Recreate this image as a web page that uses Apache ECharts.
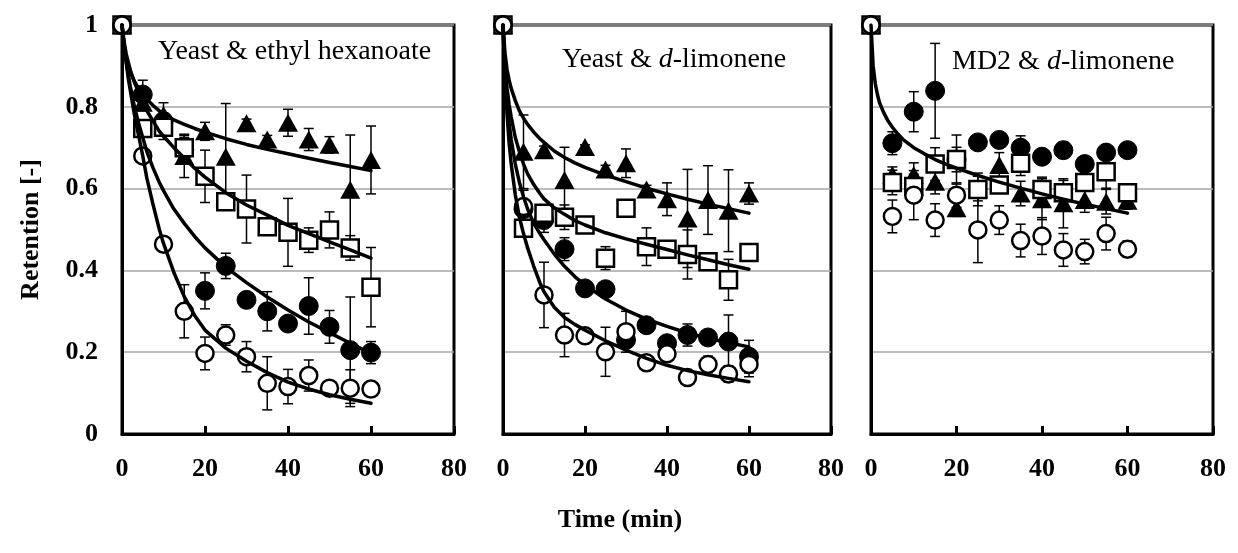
<!DOCTYPE html>
<html>
<head>
<meta charset="utf-8">
<script src="https://cdn.jsdelivr.net/npm/echarts@6/dist/echarts.min.js"></script>
<style>
  body { margin: 0; background: #fff; }
  #main { width: 1238px; height: 553px; }
</style>
</head>
<body>
<div id="main"></div>
<script>
// sampling times (min)
var times = [0, 5, 10, 15, 20, 25, 30, 35, 40, 45, 50, 55, 60];
var curveTimes = [0, 0.5, 1, 1.5, 2, 3, 4, 5, 6, 7.5, 9, 10, 12.5, 15, 17.5, 20, 25, 30, 35, 40, 45, 50, 55, 60];
var xTicks = [0, 20, 40, 60, 80];
var yTicks = [0, 0.2, 0.4, 0.6, 0.8, 1];

// panel 1 : Yeast & ethyl hexanoate
var p1FilledCircle = [1, 0.83, 0.765, 0.695, 0.35, 0.411, 0.328, 0.30, 0.27, 0.313, 0.262, 0.205, 0.199];
var p1FilledCircleErr = [0, 0.035, 0.02, 0.03, 0.044, 0.031, 0.01, 0.048, 0.015, 0.069, 0.04, 0.13, 0.027];
var p1OpenCircle = [1, 0.68, 0.464, 0.30, 0.197, 0.242, 0.189, 0.124, 0.116, 0.143, 0.112, 0.112, 0.11];
var p1OpenCircleErr = [0, 0.01, 0.01, 0.065, 0.04, 0.025, 0.037, 0.065, 0.042, 0.038, 0.01, 0.045, 0.005];
var p1Triangle = [1, 0.81, 0.78, 0.68, 0.74, 0.678, 0.76, 0.72, 0.761, 0.72, 0.707, 0.597, 0.67];
var p1TriangleErr = [0, 0.02, 0.03, 0.053, 0.022, 0.13, 0.01, 0.01, 0.033, 0.027, 0.02, 0.134, 0.083];
var p1Square = [1, 0.747, 0.75, 0.70, 0.63, 0.568, 0.55, 0.507, 0.493, 0.474, 0.499, 0.455, 0.359];
var p1SquareErr = [0, 0.015, 0.03, 0.03, 0.064, 0.02, 0.083, 0.01, 0.083, 0.03, 0.044, 0.03, 0.097];
var p1Curves = [
  [1, 0.95, 0.92, 0.90, 0.885, 0.862, 0.845, 0.83, 0.818, 0.803, 0.79, 0.783, 0.768, 0.757, 0.747, 0.738, 0.722, 0.708, 0.696, 0.685, 0.674, 0.664, 0.654, 0.644],
  [1, 0.96, 0.93, 0.91, 0.89, 0.86, 0.835, 0.81, 0.79, 0.765, 0.74, 0.728, 0.70, 0.675, 0.65, 0.628, 0.59, 0.56, 0.535, 0.51, 0.49, 0.47, 0.45, 0.43],
  [1, 0.95, 0.91, 0.88, 0.85, 0.80, 0.76, 0.725, 0.69, 0.65, 0.615, 0.595, 0.55, 0.515, 0.483, 0.455, 0.408, 0.37, 0.335, 0.303, 0.274, 0.248, 0.222, 0.197],
  [1, 0.95, 0.91, 0.87, 0.84, 0.78, 0.73, 0.68, 0.625, 0.56, 0.50, 0.466, 0.395, 0.336, 0.29, 0.254, 0.21, 0.178, 0.15, 0.127, 0.11, 0.096, 0.085, 0.075]
];

// panel 2 : Yeast & d-limonene
var p2FilledCircle = [1, 0.55, 0.523, 0.452, 0.356, 0.354, 0.23, 0.266, 0.222, 0.242, 0.236, 0.226, 0.189];
var p2FilledCircleErr = [0, 0.02, 0.03, 0.028, 0.01, 0.01, 0.01, 0.01, 0.01, 0.027, 0.01, 0.065, 0.04];
var p2OpenCircle = [1, 0.556, 0.34, 0.242, 0.24, 0.201, 0.25, 0.174, 0.196, 0.138, 0.17, 0.147, 0.17];
var p2OpenCircleErr = [0, 0.04, 0.08, 0.053, 0.01, 0.06, 0.05, 0.005, 0.01, 0.005, 0.02, 0.02, 0.03];
var p2Triangle = [1, 0.69, 0.694, 0.621, 0.702, 0.647, 0.662, 0.598, 0.574, 0.527, 0.572, 0.546, 0.588];
var p2TriangleErr = [0, 0.09, 0.01, 0.08, 0.005, 0.01, 0.035, 0.01, 0.04, 0.12, 0.084, 0.10, 0.026];
var p2Square = [1, 0.503, 0.54, 0.53, 0.511, 0.43, 0.552, 0.458, 0.452, 0.439, 0.421, 0.377, 0.444];
var p2SquareErr = [0, 0.02, 0.02, 0.03, 0.01, 0.028, 0.005, 0.046, 0.01, 0.06, 0.005, 0.05, 0];
var p2Curves = [
  [1, 0.93, 0.89, 0.865, 0.845, 0.815, 0.79, 0.772, 0.757, 0.738, 0.722, 0.713, 0.692, 0.676, 0.663, 0.652, 0.633, 0.617, 0.601, 0.587, 0.574, 0.562, 0.551, 0.54],
  [1, 0.90, 0.845, 0.805, 0.775, 0.725, 0.69, 0.66, 0.636, 0.61, 0.588, 0.575, 0.553, 0.537, 0.522, 0.511, 0.492, 0.477, 0.464, 0.451, 0.438, 0.426, 0.414, 0.403],
  [1, 0.88, 0.81, 0.76, 0.72, 0.66, 0.615, 0.58, 0.55, 0.515, 0.49, 0.475, 0.44, 0.41, 0.385, 0.364, 0.33, 0.303, 0.281, 0.263, 0.247, 0.234, 0.223, 0.213],
  [1, 0.86, 0.78, 0.71, 0.66, 0.585, 0.53, 0.49, 0.455, 0.41, 0.37, 0.348, 0.31, 0.285, 0.268, 0.254, 0.228, 0.205, 0.185, 0.168, 0.155, 0.145, 0.136, 0.128]
];

// panel 3 : MD2 & d-limonene
var p3FilledCircle = [1, 0.711, 0.788, 0.839, 0.671, 0.713, 0.719, 0.70, 0.678, 0.694, 0.66, 0.688, 0.694];
var p3FilledCircleErr = [0, 0.028, 0.049, 0.116, 0.03, 0.005, 0.015, 0.029, 0.005, 0.02, 0.005, 0.005, 0.005];
var p3OpenCircle = [1, 0.532, 0.584, 0.523, 0.584, 0.499, 0.523, 0.473, 0.484, 0.45, 0.446, 0.49, 0.452];
var p3OpenCircleErr = [0, 0.04, 0.06, 0.04, 0.03, 0.08, 0.035, 0.04, 0.045, 0.04, 0.03, 0.04, 0.02];
var p3Triangle = [1, 0.633, 0.633, 0.617, 0.552, 0.60, 0.658, 0.588, 0.574, 0.564, 0.572, 0.568, 0.57];
var p3TriangleErr = [0, 0.02, 0.03, 0.03, 0.02, 0.03, 0.03, 0.03, 0.05, 0.06, 0.03, 0.03, 0.02];
var p3Square = [1, 0.615, 0.605, 0.66, 0.671, 0.598, 0.609, 0.662, 0.598, 0.59, 0.615, 0.641, 0.59];
var p3SquareErr = [0, 0.03, 0.03, 0.04, 0.06, 0.04, 0.01, 0.03, 0.03, 0.03, 0.02, 0.04, 0.02];
var p3Curves = [
  [1, 0.90, 0.857, 0.83, 0.81, 0.785, 0.765, 0.75, 0.737, 0.72, 0.708, 0.70, 0.685, 0.671, 0.66, 0.65, 0.632, 0.616, 0.601, 0.587, 0.574, 0.562, 0.551, 0.54]
];

var FONT = "'Liberation Serif', 'Times New Roman', serif";

var panels = [
  { fc: p1FilledCircle, fcE: p1FilledCircleErr, oc: p1OpenCircle, ocE: p1OpenCircleErr,
    tr: p1Triangle, trE: p1TriangleErr, sq: p1Square, sqE: p1SquareErr, curves: p1Curves },
  { fc: p2FilledCircle, fcE: p2FilledCircleErr, oc: p2OpenCircle, ocE: p2OpenCircleErr,
    tr: p2Triangle, trE: p2TriangleErr, sq: p2Square, sqE: p2SquareErr, curves: p2Curves },
  { fc: p3FilledCircle, fcE: p3FilledCircleErr, oc: p3OpenCircle, ocE: p3OpenCircleErr,
    tr: p3Triangle, trE: p3TriangleErr, sq: p3Square, sqE: p3SquareErr, curves: p3Curves }
];

var grids = [
  { left: 122, top: 25, width: 332, height: 409 },
  { left: 503, top: 25, width: 328, height: 409 },
  { left: 871, top: 25, width: 342, height: 409 }
];

function pairs(xs, ys) {
  var out = [];
  for (var i = 0; i < ys.length; i++) out.push([xs[i], ys[i]]);
  return out;
}

function errPairs(vals, errs) {
  var out = [];
  for (var i = 0; i < vals.length; i++) {
    if (errs[i] > 0) out.push([times[i], vals[i] - errs[i], vals[i] + errs[i]]);
  }
  return out;
}

function renderErr(params, api) {
  var x = api.value(0);
  var lo = api.coord([x, api.value(1)]);
  var hi = api.coord([x, api.value(2)]);
  var cap = 5;
  var st = { stroke: '#000', lineWidth: 1.5 };
  return {
    type: 'group',
    children: [
      { type: 'line', shape: { x1: lo[0], y1: lo[1], x2: hi[0], y2: hi[1] }, style: st },
      { type: 'line', shape: { x1: lo[0] - cap, y1: lo[1], x2: lo[0] + cap, y2: lo[1] }, style: st },
      { type: 'line', shape: { x1: hi[0] - cap, y1: hi[1], x2: hi[0] + cap, y2: hi[1] }, style: st }
    ]
  };
}

var xAxes = [], yAxes = [], series = [];
for (var k = 0; k < 3; k++) {
  var p = panels[k];
  xAxes.push({
    gridIndex: k, type: 'value', min: 0, max: 80, interval: 20,
    axisLine: { show: true, onZero: false, lineStyle: { color: '#000', width: 3 } },
    axisTick: { show: true, inside: true, length: 8, lineStyle: { color: '#000', width: 3 } },
    axisLabel: { color: '#000', fontFamily: FONT, fontWeight: 'bold', fontSize: 26, margin: 22 },
    splitLine: { show: false }
  });
  yAxes.push({
    gridIndex: k, type: 'value', min: 0, max: 1, interval: 0.2,
    name: k === 0 ? 'Retention [-]' : '',
    nameLocation: 'middle', nameGap: 78, nameRotate: 90,
    nameTextStyle: { color: '#000', fontFamily: FONT, fontWeight: 'bold', fontSize: 26 },
    axisLine: { show: true, lineStyle: { color: '#000', width: 3 } },
    axisTick: { show: false },
    axisLabel: { show: k === 0, color: '#000', fontFamily: FONT, fontWeight: 'bold', fontSize: 26, margin: 24 },
    splitLine: { show: true, lineStyle: { color: '#a6a6a6', width: 1.5 } }
  });

  // error bars
  var errs = [].concat(errPairs(p.fc, p.fcE), errPairs(p.tr, p.trE), errPairs(p.sq, p.sqE), errPairs(p.oc, p.ocE));
  series.push({
    type: 'custom', xAxisIndex: k, yAxisIndex: k, renderItem: renderErr,
    encode: { x: 0, y: [1, 2] }, data: errs, z: 2, silent: true
  });

  series.push({ type: 'scatter', xAxisIndex: k, yAxisIndex: k, data: pairs(times, p.fc), symbol: 'circle', symbolSize: 19,
    itemStyle: { color: '#000', borderColor: '#000', borderWidth: 1, opacity: 1 }, z: 3 });
  series.push({ type: 'scatter', xAxisIndex: k, yAxisIndex: k, data: pairs(times, p.tr), symbol: 'triangle', symbolSize: [20, 18],
    itemStyle: { color: '#000', opacity: 1 }, z: 3 });
  series.push({ type: 'scatter', xAxisIndex: k, yAxisIndex: k, data: pairs(times, p.sq), symbol: 'rect', symbolSize: 17,
    itemStyle: { color: '#fff', borderColor: '#000', borderWidth: 2.5, opacity: 1 }, z: 3 });
  series.push({ type: 'scatter', xAxisIndex: k, yAxisIndex: k, data: pairs(times, p.oc), symbol: 'circle', symbolSize: 17,
    itemStyle: { color: '#fff', borderColor: '#000', borderWidth: 2.5, opacity: 1 }, z: 3 });

  for (var c = 0; c < p.curves.length; c++) {
    series.push({
      type: 'line', xAxisIndex: k, yAxisIndex: k, data: pairs(curveTimes, p.curves[c]),
      showSymbol: false, symbol: 'none', smooth: false,
      lineStyle: { color: '#000', width: 3.5, join: 'round', cap: 'round' }, z: 4, silent: true
    });
  }
}

var myChart = echarts.init(document.getElementById('main'), null, { renderer: 'canvas' });
var option = {
  animation: false,
  backgroundColor: '#fff',
  grid: grids.map(function (g) {
    return { left: g.left, top: g.top, width: g.width, height: g.height, show: true,
      borderColor: '#000', borderWidth: 3, backgroundColor: 'transparent', containLabel: false };
  }),
  xAxis: xAxes,
  yAxis: yAxes,
  graphic: [
    { type: 'text', x: 158, y: 52, style: { text: 'Yeast & ethyl hexanoate', font: '28px ' + FONT, fill: '#000', textVerticalAlign: 'middle' } },
    { type: 'text', x: 562, y: 60, style: {
        text: '{n|Yeast & }{i|d}{n|-limonene}', textVerticalAlign: 'middle', fill: '#000',
        rich: { n: { fontFamily: FONT, fontSize: 28, fill: '#000' }, i: { fontFamily: FONT, fontSize: 28, fontStyle: 'italic', fill: '#000' } } } },
    { type: 'text', x: 952, y: 62, style: {
        text: '{n|MD2 & }{i|d}{n|-limonene}', textVerticalAlign: 'middle', fill: '#000',
        rich: { n: { fontFamily: FONT, fontSize: 28, fill: '#000' }, i: { fontFamily: FONT, fontSize: 28, fontStyle: 'italic', fill: '#000' } } } },
    { type: 'text', x: 620, y: 520, style: { text: 'Time (min)', font: 'bold 26px ' + FONT, fill: '#000', textAlign: 'center', textVerticalAlign: 'middle' } }
  ],
  series: series
};
myChart.setOption(option);
</script>
</body>
</html>
